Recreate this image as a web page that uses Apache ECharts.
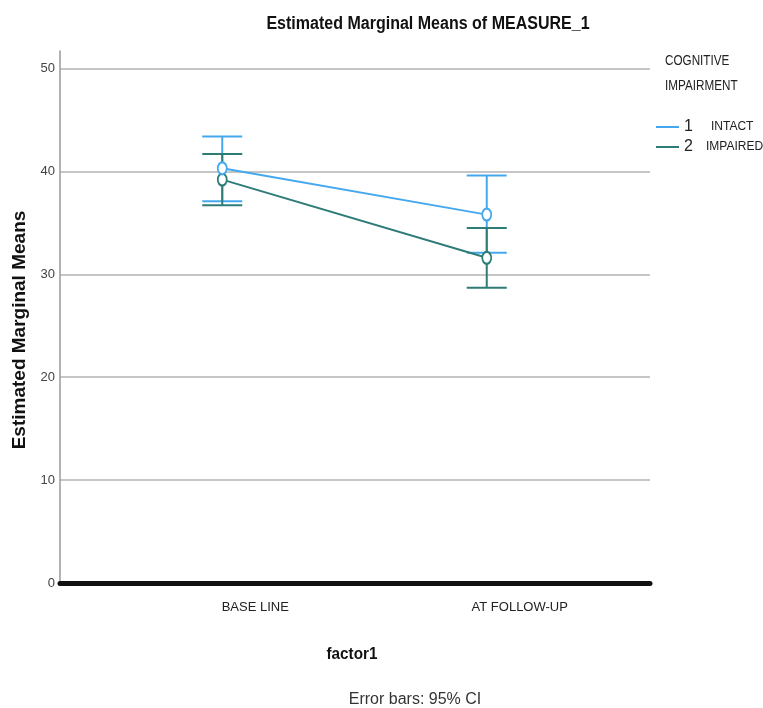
<!DOCTYPE html>
<html>
<head>
<meta charset="utf-8">
<title>Estimated Marginal Means of MEASURE_1</title>
<script src="https://cdn.jsdelivr.net/npm/echarts@6/dist/echarts.min.js"></script>
<style>
  html, body { margin: 0; padding: 0; background: #ffffff; }
  #chart { width: 763px; height: 708px; }
</style>
</head>
<body>
<div id="chart"></div>
<script>
// Time points (x categories) and cognitive-impairment groups
const categories = ['BASE LINE', 'AT FOLLOW-UP'];
const groupCodes = ['1', '2'];
const groupLabels = ['INTACT', 'IMPAIRED'];

// Estimated marginal means with 95% confidence limits
const intactMean = [40.3, 35.8];
const intactLower = [37.1, 32.1];
const intactUpper = [43.4, 39.6];
const impairedMean = [39.2, 31.6];
const impairedLower = [36.7, 28.7];
const impairedUpper = [41.7, 34.5];

// Value axis range and step
const yMin = 0;
const yMax = 51.7;
const yStep = 10;

const SANS = "'Liberation Sans', Arial, sans-serif";
const BLUE = '#45a8ef';
const TEAL = '#2e7c78';

const seriesNames = groupCodes.map((c, i) => c + ' ' + groupLabels[i]);

function errorBarData(lower, upper) {
  return categories.map((_, i) => [i, lower[i], upper[i]]);
}

function renderErrorBar(color) {
  return function (params, api) {
    const lo = api.coord([api.value(0), api.value(1)]);
    const hi = api.coord([api.value(0), api.value(2)]);
    const half = 20;
    const style = { stroke: color, lineWidth: 2 };
    return {
      type: 'group',
      children: [
        { type: 'line', shape: { x1: lo[0], y1: lo[1], x2: hi[0], y2: hi[1] }, style },
        { type: 'line', shape: { x1: hi[0] - half, y1: hi[1], x2: hi[0] + half, y2: hi[1] }, style },
        { type: 'line', shape: { x1: lo[0] - half, y1: lo[1], x2: lo[0] + half, y2: lo[1] }, style }
      ]
    };
  };
}

const chart = echarts.init(document.getElementById('chart'), null, { renderer: 'canvas' });

const option = {
  animation: false,
  backgroundColor: '#ffffff',
  grid: [
    // frame: axis lines and gridlines
    { left: 60, right: 113, top: 51, bottom: 125 },
    // data area
    { left: 90, right: 144, top: 51, bottom: 125 }
  ],
  xAxis: [
    {
      gridIndex: 0, type: 'value', min: 0, max: 1,
      axisLine: { show: true, onZero: false, lineStyle: { color: '#111111', width: 5 } },
      axisTick: { show: false }, axisLabel: { show: false }, splitLine: { show: false }
    },
    {
      gridIndex: 1, type: 'category', data: categories, boundaryGap: true,
      axisLine: { show: false }, axisTick: { show: false }, splitLine: { show: false },
      axisLabel: {
        margin: 18,
        formatter: v => '{c|' + v + '}',
        rich: { c: { fontFamily: SANS, fontSize: 13, color: '#222222', padding: [0, 0, 0, 66] } }
      }
    }
  ],
  yAxis: [
    {
      gridIndex: 0, type: 'value', min: yMin, max: yMax, interval: yStep,
      axisLine: { show: true, lineStyle: { color: '#9a9a9a', width: 1.5 } },
      axisTick: { show: false },
      axisLabel: {
        showMaxLabel: false, margin: 5,
        fontFamily: SANS, fontSize: 13, color: '#444444'
      },
      splitLine: { show: true, showMaxLine: false, showMinLine: false, lineStyle: { color: '#c6c6c6', width: 2 } }
    },
    {
      gridIndex: 1, type: 'value', min: yMin, max: yMax, interval: yStep,
      show: false
    }
  ],
  legend: {
    orient: 'vertical', left: 651, top: 113,
    itemWidth: 23, itemHeight: 2, itemGap: 2, icon: 'rect',
    data: seriesNames,
    formatter: name => {
      const i = seriesNames.indexOf(name);
      return '{c|' + groupCodes[i] + '}{l' + i + '|' + groupLabels[i] + '}';
    },
    textStyle: {
      lineHeight: 18,
      rich: {
        c: { fontFamily: SANS, fontSize: 16, color: '#222222', width: 22 },
        l0: { fontFamily: SANS, fontSize: 12, color: '#222222', padding: [0, 0, 0, 5] },
        l1: { fontFamily: SANS, fontSize: 12, color: '#222222' }
      }
    }
  },
  graphic: [
    {
      type: 'text', x: 428, y: 24, scaleX: 0.89,
      style: { text: 'Estimated Marginal Means of MEASURE_1', fontFamily: SANS, fontWeight: 'bold', fontSize: 18, fill: '#111111', align: 'center', verticalAlign: 'middle' }
    },
    {
      type: 'text', x: 665, y: 48, scaleX: 0.78,
      style: { text: 'COGNITIVE\nIMPAIRMENT', fontFamily: SANS, fontSize: 15, lineHeight: 25, fill: '#222222', align: 'left', verticalAlign: 'top' }
    },
    {
      type: 'text', x: 20, y: 330, rotation: Math.PI / 2,
      style: { text: 'Estimated Marginal Means', fontFamily: SANS, fontWeight: 'bold', fontSize: 19, fill: '#111111', align: 'center', verticalAlign: 'middle' }
    },
    {
      type: 'text', x: 352, y: 654, scaleX: 0.9,
      style: { text: 'factor1', fontFamily: SANS, fontWeight: 'bold', fontSize: 17, fill: '#111111', align: 'center', verticalAlign: 'middle' }
    },
    {
      type: 'text', x: 415, y: 700,
      style: { text: 'Error bars: 95% CI', fontFamily: SANS, fontSize: 16, fill: '#333333', align: 'center', verticalAlign: 'middle' }
    }
  ],
  series: [
    {
      type: 'custom', name: 'ci-' + seriesNames[0], xAxisIndex: 1, yAxisIndex: 1, z: 2,
      renderItem: renderErrorBar(BLUE), data: errorBarData(intactLower, intactUpper), silent: true
    },
    {
      type: 'custom', name: 'ci-' + seriesNames[1], xAxisIndex: 1, yAxisIndex: 1, z: 2,
      renderItem: renderErrorBar(TEAL), data: errorBarData(impairedLower, impairedUpper), silent: true
    },
    {
      type: 'line', name: seriesNames[1], xAxisIndex: 1, yAxisIndex: 1, z: 3,
      data: impairedMean, color: TEAL,
      symbol: 'emptyCircle', symbolSize: [9, 12],
      lineStyle: { width: 2, color: TEAL },
      itemStyle: { color: TEAL, borderWidth: 1.5 }
    },
    {
      type: 'line', name: seriesNames[0], xAxisIndex: 1, yAxisIndex: 1, z: 4,
      data: intactMean, color: BLUE,
      symbol: 'emptyCircle', symbolSize: [9, 12],
      lineStyle: { width: 2, color: BLUE },
      itemStyle: { color: BLUE, borderWidth: 1.5 }
    }
  ]
};

chart.setOption(option);
</script>
</body>
</html>
